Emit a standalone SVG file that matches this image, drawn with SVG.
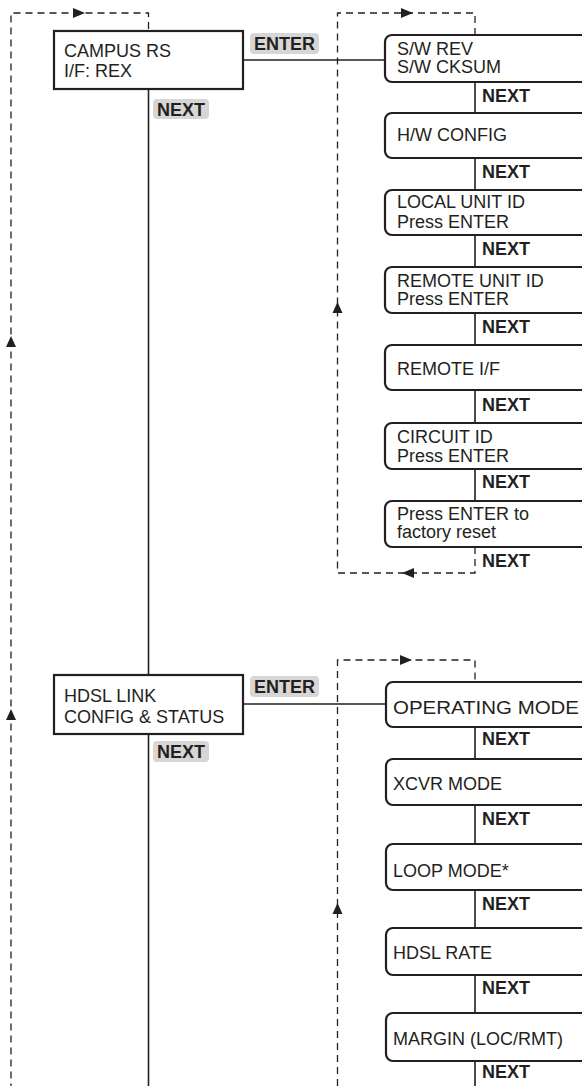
<svg xmlns="http://www.w3.org/2000/svg" width="582" height="1086" viewBox="0 0 582 1086">
<style>
.bg{fill:#fff}
.box{fill:#fff;stroke:#231f20;stroke-width:2.2}
.ln{fill:none;stroke:#231f20;stroke-width:1.6}
.dash{fill:none;stroke:#231f20;stroke-width:1.3;stroke-dasharray:7 5}
.arr{fill:#231f20}
.t{font-family:"Liberation Sans",Arial,sans-serif;font-size:18px;fill:#231f20}
.b{font-family:"Liberation Sans",Arial,sans-serif;font-size:18px;font-weight:bold;fill:#231f20}
.pill{fill:#d6d6d6}
</style>
<rect class="bg" x="0" y="0" width="582" height="1086"/>
<g id="connectors">
  <path class="dash" d="M148.5,29 V13 H11 V1086"/>
  <polygon class="arr" points="85,13 73,8 73,18"/>
  <polygon class="arr" points="11,336 6,347 16,347"/>
  <polygon class="arr" points="11,709 6,720 16,720"/>
  <path class="ln" d="M148.5,89 V675 M148.5,734 V1086"/>
  <path class="ln" d="M243,60 H385"/>
  <path class="ln" d="M243,704 H386"/>
  <path class="dash" d="M475,547 V573 H337.5 V13 H475 V34"/>
  <polygon class="arr" points="413,13 401,8 401,18"/>
  <polygon class="arr" points="402,573 414,568 414,578"/>
  <polygon class="arr" points="337.5,302 332.5,313 342.5,313"/>
  <path class="ln" d="M475,82 V113 M475,158 V190 M475,235 V267 M475,313 V345 M475,390 V423 M475,469 V501"/>
  <path class="dash" d="M337.5,1086 V660 H475 V681"/>
  <polygon class="arr" points="412,660 400,655 400,665"/>
  <polygon class="arr" points="337.5,903 332.5,914 342.5,914"/>
  <path class="ln" d="M475,727 V759 M475,805 V844 M475,890 V928 M475,975 V1013 M475,1061 V1086"/>
</g>
<g id="campus">
  <rect class="box" x="54" y="31" width="189" height="58"/>
  <text class="t" x="64" y="57">CAMPUS RS</text>
  <text class="t" x="64" y="77">I/F: REX</text>
</g>
<g id="campus-enter"><rect class="pill" x="250" y="33" width="69" height="21" rx="4"/><text class="b" x="254" y="50">ENTER</text></g>
<g id="campus-next"><rect class="pill" x="153" y="99" width="56" height="20" rx="4"/><text class="b" x="157" y="116">NEXT</text></g>
<g id="swrev"><rect class="box" x="385" y="35" width="210" height="47" rx="7"/><text class="t" x="397" y="55">S/W REV</text><text class="t" x="397" y="73">S/W CKSUM</text></g>
<g id="n1"><text class="b" x="482" y="102">NEXT</text></g>
<g id="hwconfig"><rect class="box" x="385" y="113" width="210" height="45" rx="7"/><text class="t" x="397" y="141">H/W CONFIG</text></g>
<g id="n2"><text class="b" x="482" y="178">NEXT</text></g>
<g id="localid"><rect class="box" x="385" y="190" width="210" height="45" rx="7"/><text class="t" x="397" y="208">LOCAL UNIT ID</text><text class="t" x="397" y="228">Press ENTER</text></g>
<g id="n3"><text class="b" x="482" y="255">NEXT</text></g>
<g id="remoteid"><rect class="box" x="385" y="267" width="210" height="46" rx="7"/><text class="t" x="397" y="287">REMOTE UNIT ID</text><text class="t" x="397" y="305">Press ENTER</text></g>
<g id="n4"><text class="b" x="482" y="333">NEXT</text></g>
<g id="remoteif"><rect class="box" x="385" y="345" width="210" height="45" rx="7"/><text class="t" x="397" y="375">REMOTE I/F</text></g>
<g id="n5"><text class="b" x="482" y="411">NEXT</text></g>
<g id="circuit"><rect class="box" x="385" y="423" width="210" height="46" rx="7"/><text class="t" x="397" y="443">CIRCUIT ID</text><text class="t" x="397" y="462">Press ENTER</text></g>
<g id="n6"><text class="b" x="482" y="488">NEXT</text></g>
<g id="reset"><rect class="box" x="385" y="501" width="210" height="46" rx="7"/><text class="t" x="397" y="520">Press ENTER to</text><text class="t" x="397" y="538">factory reset</text></g>
<g id="n7"><text class="b" x="482" y="567">NEXT</text></g>
<g id="hdsl">
  <rect class="box" x="54" y="675" width="189" height="59"/>
  <text class="t" x="64" y="702">HDSL LINK</text>
  <text class="t" x="64" y="723">CONFIG &amp; STATUS</text>
</g>
<g id="hdsl-enter"><rect class="pill" x="250" y="676" width="69" height="21" rx="4"/><text class="b" x="254" y="693">ENTER</text></g>
<g id="hdsl-next"><rect class="pill" x="153" y="741" width="56" height="21" rx="4"/><text class="b" x="157" y="758">NEXT</text></g>
<g id="opmode"><rect class="box" x="386" y="682" width="210" height="45" rx="7"/><text class="t" x="393" y="714" textLength="186" lengthAdjust="spacingAndGlyphs">OPERATING MODE</text></g>
<g id="m1"><text class="b" x="482" y="745">NEXT</text></g>
<g id="xcvr"><rect class="box" x="386" y="759" width="210" height="46" rx="7"/><text class="t" x="393" y="790">XCVR MODE</text></g>
<g id="m2"><text class="b" x="482" y="825">NEXT</text></g>
<g id="loop"><rect class="box" x="386" y="844" width="210" height="46" rx="7"/><text class="t" x="393" y="877">LOOP MODE*</text></g>
<g id="m3"><text class="b" x="482" y="910">NEXT</text></g>
<g id="rate"><rect class="box" x="386" y="928" width="210" height="47" rx="7"/><text class="t" x="393" y="959">HDSL RATE</text></g>
<g id="m4"><text class="b" x="482" y="994">NEXT</text></g>
<g id="margin"><rect class="box" x="386" y="1013" width="210" height="48" rx="7"/><text class="t" x="393" y="1045">MARGIN (LOC/RMT)</text></g>
<g id="m5"><text class="b" x="482" y="1078">NEXT</text></g>
</svg>
